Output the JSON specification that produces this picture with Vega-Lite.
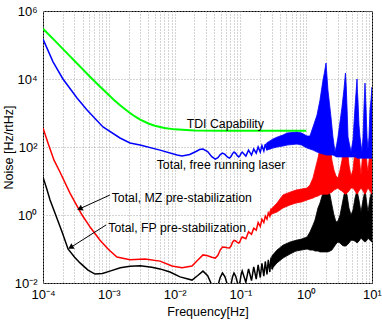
{
  "$schema": "https://vega.github.io/schema/vega-lite/v6.json",
  "width": 329,
  "height": 272,
  "autosize": {"type": "none"},
  "padding": {"left": 43, "top": 11, "right": 10, "bottom": 37},
  "background": "white",
  "config": {
    "font": "Liberation Sans",
    "view": {"stroke": "black", "strokeWidth": 1},
    "axis": {
      "grid": true, "gridColor": "#a8a8a8", "gridDash": [1, 2], "gridWidth": 1,
      "ticks": false, "domain": false,
      "labelFont": "Liberation Sans", "labelFontSize": 13, "labelColor": "black",
      "labelFlush": false, "labelOverlap": false,
      "titleFont": "Liberation Sans", "titleFontSize": 12.5, "titleFontWeight": "normal", "titleColor": "black"
    }
  },
  "datasets": {
    "green": [
      {"f": 0.0001, "N": 300000}, {"f": 0.00015, "N": 137000}, {"f": 0.0002, "N": 77000}, {"f": 0.00025, "N": 49400},
      {"f": 0.0003, "N": 34400}, {"f": 0.0004, "N": 19500}, {"f": 0.0005, "N": 12500}, {"f": 0.0007, "N": 6570},
      {"f": 0.001, "N": 3370}, {"f": 0.0012, "N": 2430}, {"f": 0.0015, "N": 1670}, {"f": 0.002, "N": 1070},
      {"f": 0.0025, "N": 790}, {"f": 0.003, "N": 640}, {"f": 0.004, "N": 492}, {"f": 0.005, "N": 420},
      {"f": 0.007, "N": 360}, {"f": 0.01, "N": 330}, {"f": 0.02, "N": 308}, {"f": 0.05, "N": 301}, {"f": 1, "N": 300}
    ],
    "blueLine": [
      {"f": 0.0001, "N": 150000}, {"f": 0.000115, "N": 81000}, {"f": 0.000142, "N": 32000}, {"f": 0.000201, "N": 10000},
      {"f": 0.000329, "N": 2750}, {"f": 0.000467, "N": 1230}, {"f": 0.000816, "N": 390}, {"f": 0.00148, "N": 184},
      {"f": 0.0021, "N": 131}, {"f": 0.00298, "N": 114}, {"f": 0.006, "N": 81}, {"f": 0.0109, "N": 58},
      {"f": 0.013, "N": 54}, {"f": 0.017, "N": 60}, {"f": 0.0215, "N": 75}, {"f": 0.024, "N": 84},
      {"f": 0.027, "N": 87}, {"f": 0.0318, "N": 73}, {"f": 0.0367, "N": 52}, {"f": 0.0415, "N": 44},
      {"f": 0.0455, "N": 48.4}, {"f": 0.0495, "N": 60}, {"f": 0.0535, "N": 66}, {"f": 0.0583, "N": 60.6},
      {"f": 0.0632, "N": 51}, {"f": 0.068, "N": 47}, {"f": 0.072, "N": 52}, {"f": 0.076, "N": 64},
      {"f": 0.08, "N": 71}, {"f": 0.0848, "N": 65}, {"f": 0.0897, "N": 55.6}, {"f": 0.0945, "N": 51},
      {"f": 0.0985, "N": 55.6}, {"f": 0.1025, "N": 65}, {"f": 0.1065, "N": 71}, {"f": 0.121, "N": 54},
      {"f": 0.133, "N": 81}, {"f": 0.1475, "N": 58}, {"f": 0.1595, "N": 87}, {"f": 0.174, "N": 66},
      {"f": 0.186, "N": 100}, {"f": 0.2005, "N": 71}, {"f": 0.2125, "N": 110}, {"f": 0.227, "N": 76},
      {"f": 0.239, "N": 122}, {"f": 0.2535, "N": 81}, {"f": 0.2655, "N": 131}, {"f": 0.28, "N": 87}, {"f": 0.292, "N": 150}
    ],
    "blueBand": [
      {"f": 0.25, "N": 131, "N2": 81}, {"f": 0.313, "N": 172, "N2": 93}, {"f": 0.36, "N": 195, "N2": 100},
      {"f": 0.444, "N": 225, "N2": 107}, {"f": 0.511, "N": 258, "N2": 114}, {"f": 0.725, "N": 276, "N2": 122},
      {"f": 0.85, "N": 258, "N2": 114}, {"f": 1.03, "N": 210, "N2": 93}, {"f": 1.14, "N": 210, "N2": 87},
      {"f": 1.27, "N": 390, "N2": 81}, {"f": 1.46, "N": 870, "N2": 71}, {"f": 1.62, "N": 2400, "N2": 66},
      {"f": 1.8, "N": 9350, "N2": 62}, {"f": 1.9, "N": 16000, "N2": 60}, {"f": 2.0, "N": 29500, "N2": 58},
      {"f": 2.07, "N": 12000, "N2": 58}, {"f": 2.14, "N": 4750, "N2": 58}, {"f": 2.38, "N": 760, "N2": 58},
      {"f": 2.55, "N": 197, "N2": 58}, {"f": 2.74, "N": 71, "N2": 54}, {"f": 2.9, "N": 114, "N2": 51},
      {"f": 3.04, "N": 197, "N2": 51}, {"f": 3.5, "N": 1500, "N2": 51}, {"f": 3.75, "N": 5000, "N2": 51},
      {"f": 3.95, "N": 15000, "N2": 51}, {"f": 4.06, "N": 6000, "N2": 51}, {"f": 4.17, "N": 1500, "N2": 51},
      {"f": 4.32, "N": 197, "N2": 51}, {"f": 4.8, "N": 71, "N2": 51}, {"f": 5.14, "N": 161, "N2": 51},
      {"f": 5.52, "N": 1500, "N2": 51}, {"f": 5.72, "N": 4000, "N2": 51}, {"f": 5.92, "N": 10000, "N2": 47},
      {"f": 6.02, "N": 4000, "N2": 47}, {"f": 6.12, "N": 2400, "N2": 47}, {"f": 6.34, "N": 445, "N2": 47},
      {"f": 6.57, "N": 197, "N2": 47}, {"f": 7.05, "N": 71, "N2": 47}, {"f": 7.3, "N": 197, "N2": 47},
      {"f": 7.56, "N": 1500, "N2": 47}, {"f": 7.83, "N": 7600, "N2": 47}, {"f": 8.11, "N": 1500, "N2": 47},
      {"f": 8.4, "N": 197, "N2": 47}, {"f": 8.69, "N": 81, "N2": 47}, {"f": 9.0, "N": 197, "N2": 47},
      {"f": 9.32, "N": 1230, "N2": 47}, {"f": 9.66, "N": 2500, "N2": 47}, {"f": 10, "N": 5800, "N2": 47}
    ],
    "redLine": [
      {"f": 0.0001, "N": 363}, {"f": 0.000119, "N": 131}, {"f": 0.000147, "N": 41}, {"f": 0.000181, "N": 18.4},
      {"f": 0.000257, "N": 4.4}, {"f": 0.000392, "N": 1}, {"f": 0.00053, "N": 0.42}, {"f": 0.000735, "N": 0.18},
      {"f": 0.001, "N": 0.095}, {"f": 0.00133, "N": 0.058}, {"f": 0.0021, "N": 0.048}, {"f": 0.00355, "N": 0.051},
      {"f": 0.006, "N": 0.044}, {"f": 0.00912, "N": 0.0316}, {"f": 0.013, "N": 0.028}, {"f": 0.0184, "N": 0.0316},
      {"f": 0.022, "N": 0.045}, {"f": 0.027, "N": 0.067}, {"f": 0.0318, "N": 0.0634}, {"f": 0.0367, "N": 0.057},
      {"f": 0.0415, "N": 0.054}, {"f": 0.0455, "N": 0.065}, {"f": 0.0495, "N": 0.0946}, {"f": 0.0535, "N": 0.114},
      {"f": 0.0583, "N": 0.112}, {"f": 0.0632, "N": 0.1087}, {"f": 0.068, "N": 0.107}, {"f": 0.072, "N": 0.1218},
      {"f": 0.076, "N": 0.158}, {"f": 0.08, "N": 0.18}, {"f": 0.0848, "N": 0.172}, {"f": 0.0897, "N": 0.157},
      {"f": 0.0945, "N": 0.15}, {"f": 0.0985, "N": 0.166}, {"f": 0.1025, "N": 0.203}, {"f": 0.1065, "N": 0.225},
      {"f": 0.121, "N": 0.2}, {"f": 0.133, "N": 0.32}, {"f": 0.1475, "N": 0.27}, {"f": 0.1595, "N": 0.41},
      {"f": 0.174, "N": 0.36}, {"f": 0.186, "N": 0.6}, {"f": 0.2005, "N": 0.46}, {"f": 0.2125, "N": 0.75},
      {"f": 0.227, "N": 0.6}, {"f": 0.239, "N": 0.93}, {"f": 0.2535, "N": 0.76}, {"f": 0.2655, "N": 1.15},
      {"f": 0.28, "N": 0.93}, {"f": 0.292, "N": 1.4}, {"f": 0.3065, "N": 1.1}
    ],
    "redBand": [
      {"f": 0.28, "N": 1.3, "N2": 0.93}, {"f": 0.3, "N": 1.55, "N2": 1.07}, {"f": 0.36, "N": 2.25, "N2": 1.22},
      {"f": 0.444, "N": 3.9, "N2": 1.61}, {"f": 0.567, "N": 4.7, "N2": 1.97}, {"f": 0.7, "N": 5.4, "N2": 2.25},
      {"f": 0.85, "N": 5.8, "N2": 2.41}, {"f": 1.03, "N": 6.2, "N2": 2.76}, {"f": 1.14, "N": 7.6, "N2": 2.95},
      {"f": 1.27, "N": 12.3, "N2": 3.16}, {"f": 1.36, "N": 21, "N2": 3.4}, {"f": 1.51, "N": 47, "N2": 3.6},
      {"f": 1.62, "N": 93, "N2": 3.9}, {"f": 1.74, "N": 184, "N2": 4.1}, {"f": 1.87, "N": 300, "N2": 4.1},
      {"f": 2.0, "N": 445, "N2": 4.1}, {"f": 2.14, "N": 250, "N2": 4.1}, {"f": 2.3, "N": 114, "N2": 4.4},
      {"f": 2.46, "N": 41, "N2": 4.7}, {"f": 2.64, "N": 21, "N2": 5.4}, {"f": 2.84, "N": 14, "N2": 5.8},
      {"f": 3.04, "N": 12.3, "N2": 6.2}, {"f": 3.27, "N": 21, "N2": 5.4}, {"f": 3.5, "N": 41, "N2": 5.1},
      {"f": 3.75, "N": 161, "N2": 4.4}, {"f": 3.95, "N": 316, "N2": 4.1}, {"f": 4.17, "N": 114, "N2": 4.4},
      {"f": 4.47, "N": 29.5, "N2": 5.1}, {"f": 4.8, "N": 14, "N2": 6.2}, {"f": 5.14, "N": 21, "N2": 6.2},
      {"f": 5.52, "N": 81, "N2": 5.1}, {"f": 5.92, "N": 225, "N2": 4.1}, {"f": 6.34, "N": 58, "N2": 5.1},
      {"f": 6.8, "N": 15, "N2": 6.2}, {"f": 7.3, "N": 81, "N2": 5.1}, {"f": 7.83, "N": 225, "N2": 4.1},
      {"f": 8.4, "N": 29.5, "N2": 5.4}, {"f": 8.69, "N": 18.4, "N2": 6.2}, {"f": 9.32, "N": 81, "N2": 5.1},
      {"f": 10, "N": 225, "N2": 4.1}
    ],
    "blackLine": [
      {"f": 0.0001, "N": 13}, {"f": 0.000113, "N": 6.2}, {"f": 0.000128, "N": 2.76}, {"f": 0.000152, "N": 1.15},
      {"f": 0.000195, "N": 0.316}, {"f": 0.00024, "N": 0.1}, {"f": 0.0003, "N": 0.058}, {"f": 0.000365, "N": 0.039},
      {"f": 0.000483, "N": 0.024}, {"f": 0.000617, "N": 0.0183}, {"f": 0.0008, "N": 0.019}, {"f": 0.00104, "N": 0.0224},
      {"f": 0.0015, "N": 0.028}, {"f": 0.0021, "N": 0.031}, {"f": 0.003, "N": 0.032}, {"f": 0.0045, "N": 0.029},
      {"f": 0.006, "N": 0.026}, {"f": 0.0085, "N": 0.021}, {"f": 0.0121, "N": 0.0151}, {"f": 0.0184, "N": 0.0122},
      {"f": 0.0225, "N": 0.0166}, {"f": 0.027, "N": 0.0224}, {"f": 0.0318, "N": 0.0164}, {"f": 0.0367, "N": 0.0088},
      {"f": 0.0415, "N": 0.0065}, {"f": 0.0455, "N": 0.0085}, {"f": 0.0495, "N": 0.0148}, {"f": 0.0535, "N": 0.0196},
      {"f": 0.0583, "N": 0.0152}, {"f": 0.0632, "N": 0.0091}, {"f": 0.068, "N": 0.007}, {"f": 0.072, "N": 0.0091},
      {"f": 0.076, "N": 0.0152}, {"f": 0.08, "N": 0.0196}, {"f": 0.0848, "N": 0.0159}, {"f": 0.0897, "N": 0.0105},
      {"f": 0.0945, "N": 0.0085}, {"f": 0.0985, "N": 0.0108}, {"f": 0.1025, "N": 0.0176}, {"f": 0.1065, "N": 0.0224},
      {"f": 0.121, "N": 0.0105}, {"f": 0.133, "N": 0.026}, {"f": 0.1475, "N": 0.0118}, {"f": 0.1595, "N": 0.03},
      {"f": 0.174, "N": 0.013}, {"f": 0.186, "N": 0.034}, {"f": 0.2005, "N": 0.0145}, {"f": 0.2125, "N": 0.038},
      {"f": 0.227, "N": 0.016}, {"f": 0.239, "N": 0.043}, {"f": 0.2535, "N": 0.018}, {"f": 0.2655, "N": 0.048},
      {"f": 0.28, "N": 0.021}, {"f": 0.292, "N": 0.056}, {"f": 0.3065, "N": 0.025}, {"f": 0.3185, "N": 0.064}
    ],
    "blackBand": [
      {"f": 0.3, "N": 0.062, "N2": 0.026}, {"f": 0.36, "N": 0.093, "N2": 0.039}, {"f": 0.444, "N": 0.13, "N2": 0.054},
      {"f": 0.567, "N": 0.16, "N2": 0.071}, {"f": 0.7, "N": 0.18, "N2": 0.087}, {"f": 0.85, "N": 0.196, "N2": 0.093},
      {"f": 1.03, "N": 0.225, "N2": 0.1}, {"f": 1.14, "N": 0.316, "N2": 0.093}, {"f": 1.27, "N": 0.51, "N2": 0.093},
      {"f": 1.36, "N": 0.71, "N2": 0.087}, {"f": 1.51, "N": 1.61, "N2": 0.087}, {"f": 1.62, "N": 2.25, "N2": 0.082},
      {"f": 1.74, "N": 3.6, "N2": 0.082}, {"f": 1.87, "N": 5.4, "N2": 0.082}, {"f": 2.0, "N": 7.1, "N2": 0.082},
      {"f": 2.14, "N": 6.2, "N2": 0.082}, {"f": 2.3, "N": 3.9, "N2": 0.087}, {"f": 2.46, "N": 1.97, "N2": 0.093},
      {"f": 2.64, "N": 1.0, "N2": 0.114}, {"f": 2.84, "N": 0.62, "N2": 0.14}, {"f": 3.04, "N": 0.67, "N2": 0.16},
      {"f": 3.27, "N": 1.0, "N2": 0.15}, {"f": 3.5, "N": 1.97, "N2": 0.13}, {"f": 3.75, "N": 3.9, "N2": 0.122},
      {"f": 3.95, "N": 5.4, "N2": 0.122}, {"f": 4.17, "N": 3.9, "N2": 0.13}, {"f": 4.47, "N": 1.61, "N2": 0.15},
      {"f": 4.8, "N": 1.0, "N2": 0.18}, {"f": 5.14, "N": 1.4, "N2": 0.18}, {"f": 5.52, "N": 3.16, "N2": 0.17},
      {"f": 5.92, "N": 5.4, "N2": 0.15}, {"f": 6.34, "N": 2.76, "N2": 0.17}, {"f": 6.8, "N": 1.22, "N2": 0.21},
      {"f": 7.3, "N": 2.76, "N2": 0.18}, {"f": 7.83, "N": 5.4, "N2": 0.16}, {"f": 8.4, "N": 1.97, "N2": 0.18},
      {"f": 8.69, "N": 1.22, "N2": 0.21}, {"f": 9.32, "N": 3.16, "N2": 0.18}, {"f": 10, "N": 5.4, "N2": 0.16}
    ],
    "labels": [
      {"label": "TDI Capability", "f": 0.01528, "N": 362},
      {"label": "Total, free running laser", "f": 0.00535, "N": 22.5},
      {"label": "Total, MZ pre-stabilization", "f": 0.001107, "N": 2.46},
      {"label": "Total, FP pre-stabilization", "f": 0.000982, "N": 0.323}
    ],
    "arrows": [
      {"name": "MZ", "f": 0.00104, "N": 3.87, "f2": 0.000361, "N2": 1.52},
      {"name": "FP", "f": 0.000907, "N": 0.508, "f2": 0.000263, "N2": 0.111}
    ]
  },
  "encoding": {
    "x": {
      "field": "f", "type": "quantitative",
      "scale": {"type": "log", "domain": [0.0001, 10], "nice": false},
      "axis": {
        "title": "Frequency[Hz]",
        "values": [0.0001, 0.0002, 0.0003, 0.0004, 0.0005, 0.0006, 0.0007, 0.0008, 0.0009,
                   0.001, 0.002, 0.003, 0.004, 0.005, 0.006, 0.007, 0.008, 0.009,
                   0.01, 0.02, 0.03, 0.04, 0.05, 0.06, 0.07, 0.08, 0.09,
                   0.1, 0.2, 0.3, 0.4, 0.5, 0.6, 0.7, 0.8, 0.9,
                   1, 2, 3, 4, 5, 6, 7, 8, 9, 10],
        "labelExpr": "datum.value == 0.0001 ? '10⁻⁴' : datum.value == 0.001 ? '10⁻³' : datum.value == 0.01 ? '10⁻²' : datum.value == 0.1 ? '10⁻¹' : datum.value == 1 ? '10⁰' : datum.value == 10 ? '10¹' : ''",
        "labelPadding": 5,
        "titleY": 32, "titleBaseline": "alphabetic"
      }
    },
    "y": {
      "field": "N", "type": "quantitative",
      "scale": {"type": "log", "domain": [0.01, 1000000], "nice": false},
      "axis": {
        "title": "Noise [Hz/rtHz]",
        "values": [0.01, 1, 100, 10000, 1000000],
        "labelExpr": "datum.value == 0.01 ? '10⁻²' : datum.value == 1 ? '10⁰' : datum.value == 100 ? '10²' : datum.value == 10000 ? '10⁴' : '10⁶'",
        "labelPadding": 6,
        "titleX": -30.5, "titleBaseline": "alphabetic"
      }
    }
  },
  "layer": [
    {"data": {"name": "blackBand"}, "mark": {"type": "area", "color": "black", "stroke": "black", "strokeWidth": 0.8, "clip": true}, "encoding": {"y2": {"field": "N2"}}},
    {"data": {"name": "blackLine"}, "mark": {"type": "line", "color": "black", "strokeWidth": 1.5, "clip": true}, "encoding": {}},
    {"data": {"name": "redBand"}, "mark": {"type": "area", "color": "#ff0000", "stroke": "#ff0000", "strokeWidth": 0.8, "clip": true}, "encoding": {"y2": {"field": "N2"}}},
    {"data": {"name": "redLine"}, "mark": {"type": "line", "color": "#ff0000", "strokeWidth": 1.5, "clip": true}, "encoding": {}},
    {"data": {"name": "blueBand"}, "mark": {"type": "area", "color": "#0000ff", "stroke": "#0000ff", "strokeWidth": 0.8, "clip": true}, "encoding": {"y2": {"field": "N2"}}},
    {"data": {"name": "blueLine"}, "mark": {"type": "line", "color": "#0000ff", "strokeWidth": 1.5, "clip": true}, "encoding": {}},
    {"data": {"name": "green"}, "mark": {"type": "line", "color": "#00ff00", "strokeWidth": 2, "clip": true}, "encoding": {}},
    {"data": {"name": "arrows"}, "mark": {"type": "rule", "color": "black", "strokeWidth": 1}, "encoding": {"x2": {"field": "f2"}, "y2": {"field": "N2"}}},
    {"data": {"name": "arrows"}, "transform": [{"filter": "datum.name == 'MZ'"}], "mark": {"type": "point", "shape": "triangle-left", "filled": true, "color": "black", "opacity": 1, "size": 40, "angle": 335.5}, "encoding": {"x": {"field": "f2", "type": "quantitative"}, "y": {"field": "N2", "type": "quantitative"}}},
    {"data": {"name": "arrows"}, "transform": [{"filter": "datum.name == 'FP'"}], "mark": {"type": "point", "shape": "triangle-left", "filled": true, "color": "black", "opacity": 1, "size": 40, "angle": 329}, "encoding": {"x": {"field": "f2", "type": "quantitative"}, "y": {"field": "N2", "type": "quantitative"}}},
    {"data": {"name": "labels"}, "mark": {"type": "text", "align": "left", "baseline": "alphabetic", "fontSize": 12.3, "font": "Liberation Sans", "color": "black"}, "encoding": {"text": {"field": "label"}}}
  ]
}
